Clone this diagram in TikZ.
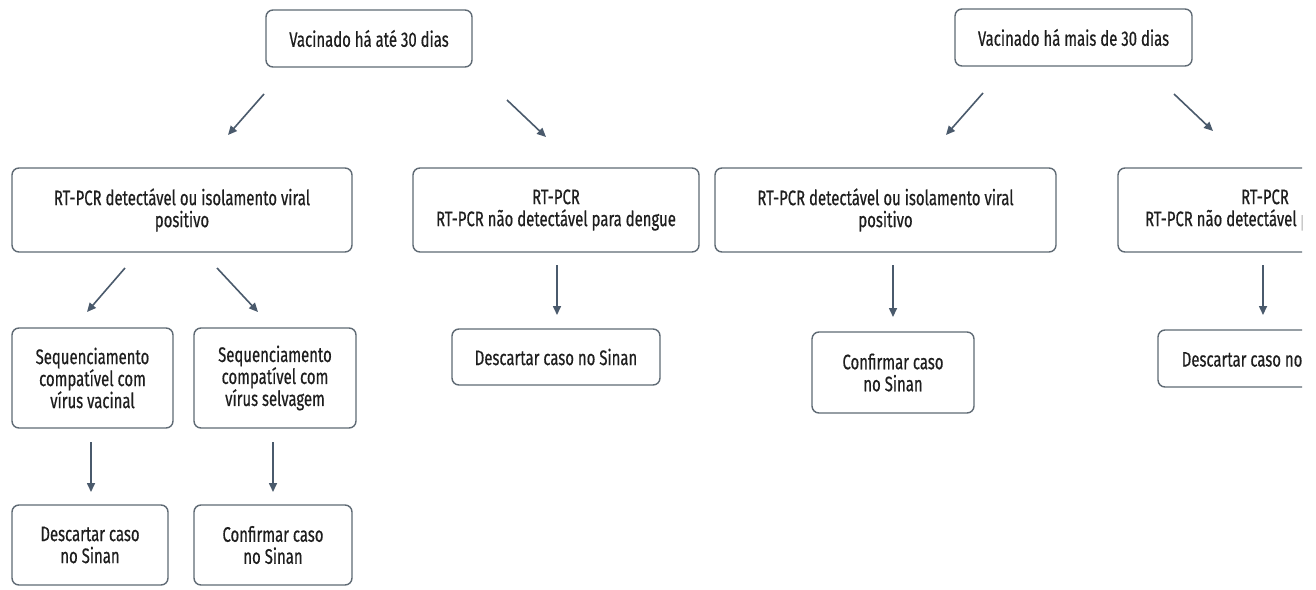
\documentclass[tikz,border=0pt]{standalone}
\usepackage{fontspec}
\setmainfont{Fira Sans}[FakeStretch=0.71,FakeBold=0.5]
\usetikzlibrary{arrows.meta}
\definecolor{boxline}{HTML}{5F6A74}
\definecolor{arrowc}{HTML}{4A5A6C}
\definecolor{txt}{HTML}{1E1E1E}
\begin{document}
\begin{tikzpicture}[x=1pt,y=-1pt,
  box/.style={draw=boxline, line width=1.4pt, rounded corners=7pt, fill=white, text=txt,
    align=center, inner sep=0pt, font=\fontsize{21}{22}\selectfont},
  conn/.style={draw=arrowc, line width=1.6pt, -{Triangle[length=9pt,width=8pt]}}]
\useasboundingbox (0,0) rectangle (1316,589);
\fill[white] (0,0) rectangle (1316,589);
\begin{scope}
\clip (0,0) rectangle (1302,589);
% top
\node[box, minimum width=206pt, minimum height=57pt] (A) at (369,38.5) {Vacinado há até 30 dias};
\node[box, minimum width=237pt, minimum height=57pt] (B) at (1073.5,37.5) {Vacinado há mais de 30 dias};
% second row
\node[box, minimum width=340pt, minimum height=84pt] (C) at (182,210) {RT-PCR detectável ou isolamento viral\\positivo};
\node[box, minimum width=286pt, minimum height=84pt] (D) at (556,210) {RT-PCR\\RT-PCR não detectável para dengue};
\node[box, minimum width=341pt, minimum height=84pt] (E) at (885.5,210) {RT-PCR detectável ou isolamento viral\\positivo};
\node[box, minimum width=294pt, minimum height=84pt] (F) at (1265,210) {RT-PCR\\RT-PCR não detectável para dengue};
% third row
\node[box, minimum width=161pt, minimum height=100pt] (G) at (92.5,378) {Sequenciamento\\compatível com\\vírus vacinal};
\node[box, minimum width=162pt, minimum height=100pt] (H) at (275,378) {Sequenciamento\\compatível com\\vírus selvagem};
\node[box, minimum width=208pt, minimum height=56pt] (I) at (556,357) {Descartar caso no Sinan};
\node[box, minimum width=162pt, minimum height=81pt] (J) at (893,372.5) {Confirmar caso\\no Sinan};
\node[box, minimum width=210pt, minimum height=57pt] (K) at (1263,358.5) {Descartar caso no Sinan};
% fourth row
\node[box, minimum width=156pt, minimum height=80pt] (L) at (90,545) {Descartar caso\\no Sinan};
\node[box, minimum width=158pt, minimum height=80pt] (M) at (273,545) {Confirmar caso\\no Sinan};
% connector end points
\coordinate (a1s) at (264,94);   \coordinate (a1e) at (228,135);
\coordinate (a2s) at (507,100);  \coordinate (a2e) at (546,137);
\coordinate (a3s) at (125,268);  \coordinate (a3e) at (87,312);
\coordinate (a4s) at (217,268);  \coordinate (a4e) at (258,312);
\coordinate (a5s) at (557,265);  \coordinate (a5e) at (557,315);
\coordinate (a6s) at (91,442);   \coordinate (a6e) at (91,492);
\coordinate (a7s) at (273,442);  \coordinate (a7e) at (273,492);
\coordinate (a8s) at (983,93);   \coordinate (a8e) at (946,135);
\coordinate (a9s) at (1174,94);  \coordinate (a9e) at (1213,131);
\coordinate (a10s) at (893,265); \coordinate (a10e) at (893,317);
\coordinate (a11s) at (1263,265);\coordinate (a11e) at (1263,315);
\draw[conn] (a1s) -- (a1e);
\draw[conn] (a2s) -- (a2e);
\draw[conn] (a3s) -- (a3e);
\draw[conn] (a4s) -- (a4e);
\draw[conn] (a5s) -- (a5e);
\draw[conn] (a6s) -- (a6e);
\draw[conn] (a7s) -- (a7e);
\draw[conn] (a8s) -- (a8e);
\draw[conn] (a9s) -- (a9e);
\draw[conn] (a10s) -- (a10e);
\draw[conn] (a11s) -- (a11e);
\end{scope}
\end{tikzpicture}
\end{document}
